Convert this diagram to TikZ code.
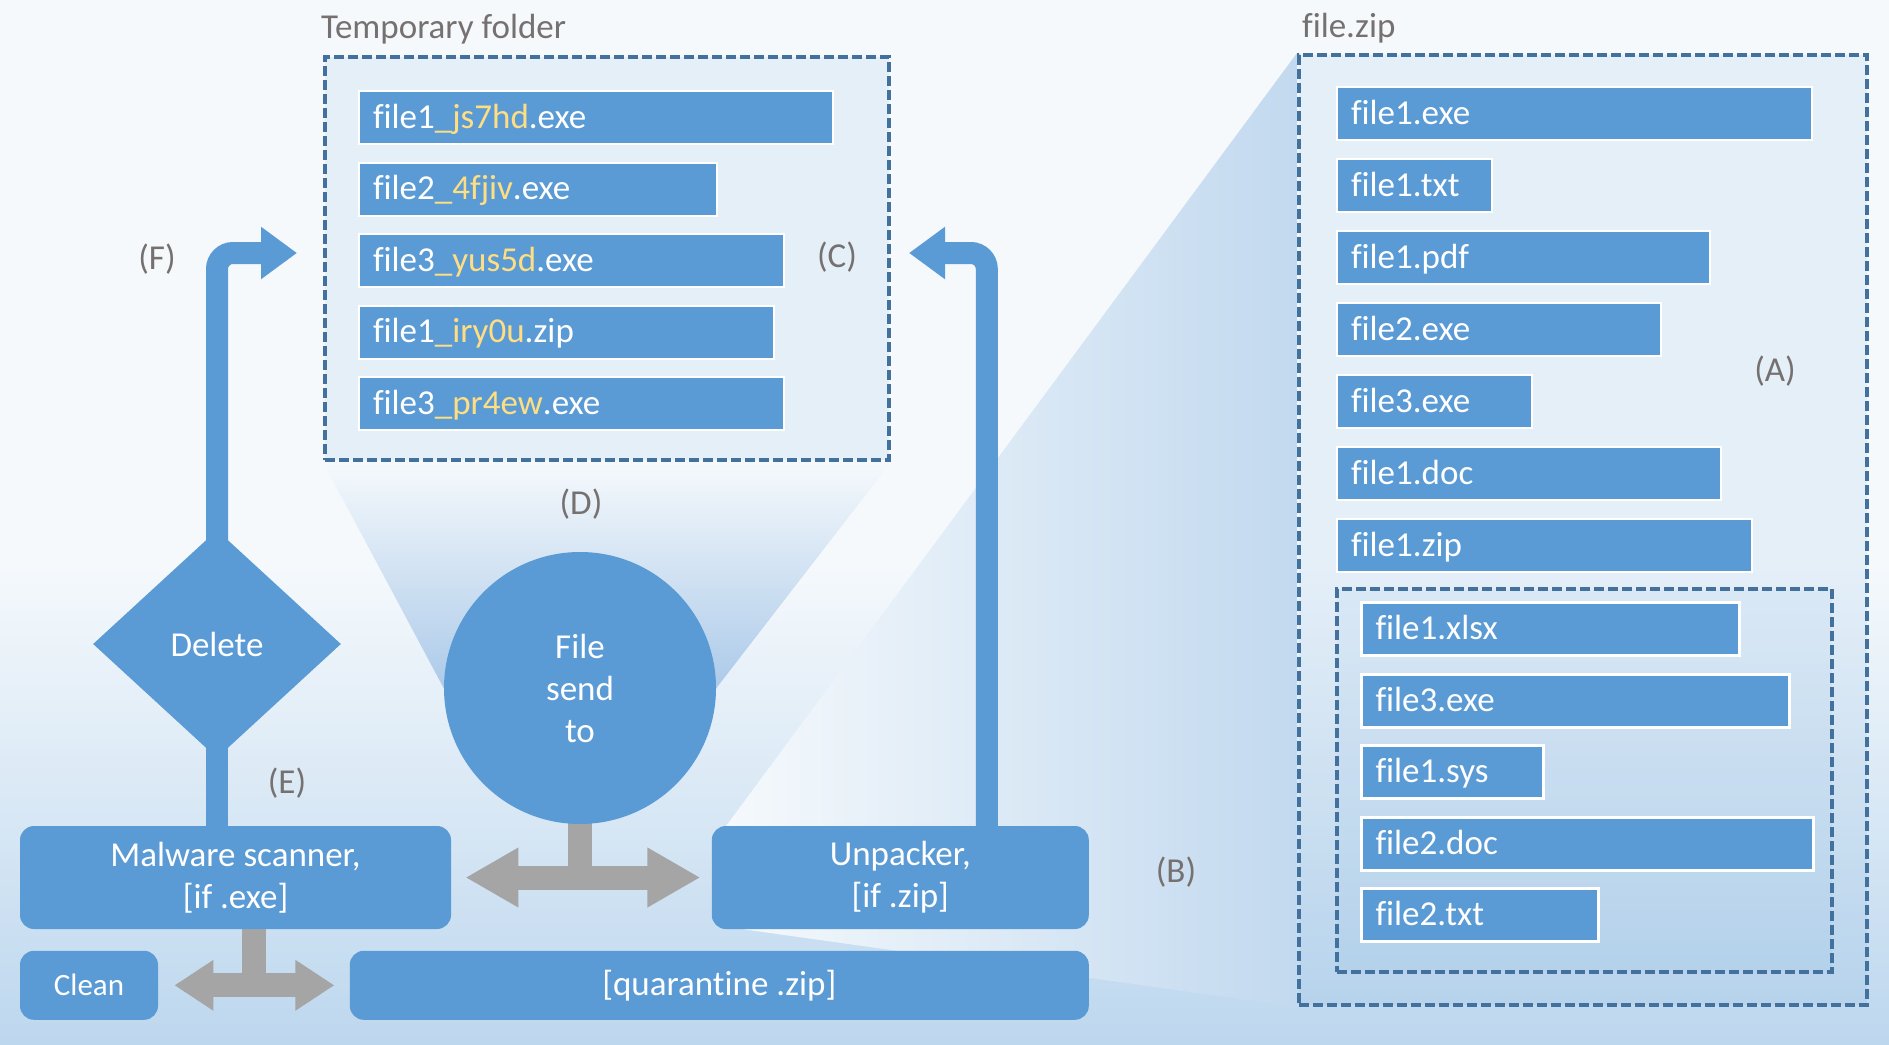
\documentclass[tikz,border=0pt]{standalone}
\usepackage{fontspec}
\setmainfont{Carlito}[Ligatures=CommonOff]
\definecolor{barblue}{RGB}{91, 155, 213}
\definecolor{dashblue}{RGB}{65, 113, 156}
\definecolor{lblgray}{RGB}{118, 113, 113}
\definecolor{sufyellow}{RGB}{255, 222, 130}
\definecolor{arrowgray}{RGB}{165, 165, 165}
\definecolor{bgtop}{RGB}{245, 249, 252}
\definecolor{bgbot}{RGB}{189, 215, 238}
\definecolor{beamblue}{RGB}{172, 202, 233}
\definecolor{zipbeam}{RGB}{194, 217, 239}
\usepackage{tikz}
\usetikzlibrary{shapes.geometric, arrows.meta, positioning, calc, backgrounds}
\newcommand{\mainsize}{\fontsize{17.5pt}{21pt}\selectfont}
\newcommand{\suf}[1]{\textcolor{sufyellow}{\_#1}}
\pgfdeclareverticalshading{pagebg}{100bp}{color(0bp)=(bgbot); color(25bp)=(bgbot); color(48bp)=(bgtop); color(100bp)=(bgtop)}
\tikzset{
    dashbox/.style={draw=dashblue, line width=2pt, dash pattern=on 5pt off 2pt, fill=barblue, fill opacity=0.1, inner sep=0pt},
    filebar/.style={draw=white, line width=1pt, fill=barblue, text=white, font=\mainsize, align=left, minimum height=26.5pt, inner xsep=7pt, inner ysep=0pt, text height=14pt, text depth=3.5pt},
    flowbox/.style={fill=barblue, rounded corners=7pt, text=white, font=\mainsize, align=center, inner sep=0pt},
    decision/.style={diamond, fill=barblue, text=white, font=\mainsize, inner sep=0pt},
    sendcircle/.style={circle, fill=barblue, text=white, font=\mainsize, align=center, inner sep=0pt},
    bluearrow/.style={draw=barblue, line width=11pt, rounded corners=8pt, -{Triangle[length=18pt, width=25pt]}},
    bluestem/.style={draw=barblue, line width=11pt},
    grayarrow/.style={draw=arrowgray, line width=12pt, {Triangle[length=26.5pt, width=28pt]}-{Triangle[length=26.5pt, width=28pt]}},
    smallgrayarrow/.style={draw=arrowgray, line width=12pt, {Triangle[length=19.5pt, width=24pt]}-{Triangle[length=19.5pt, width=24pt]}},
    graystem/.style={draw=arrowgray, line width=12pt},
    lbl/.style={text=lblgray, font=\mainsize},
}

\begin{document}
\begin{tikzpicture}[x=0.5pt, y=-0.5pt]
    \useasboundingbox (0,0) rectangle (1889,1044);

    % temporary folder
    \node[dashbox, minimum width=282pt, minimum height=201.5pt, anchor=north west] (tmpbox) at (323,55) {};
    \node[lbl, anchor=base west] (tmplbl) at (314,39) {Temporary folder};
    \node[filebar, text width=223pt, anchor=north west] (t1) at (358,90) {file1\suf{js7hd}.exe};
    \node[filebar, text width=165pt, below=8.3pt of t1.south west, anchor=north west] (t2) {file2\suf{4fjiv}.exe};
    \node[filebar, text width=198.5pt, below=8.3pt of t2.south west, anchor=north west] (t3) {file3\suf{yus5d}.exe};
    \node[filebar, text width=193.5pt, below=8.3pt of t3.south west, anchor=north west] (t4) {file1\suf{iry0u}.zip};
    \node[filebar, text width=198.5pt, below=8.3pt of t4.south west, anchor=north west] (t5) {file3\suf{pr4ew}.exe};

    % file.zip
    \node[dashbox, minimum width=284pt, minimum height=475pt, anchor=north west] (zipbox) at (1297,53) {};
    \node[lbl, anchor=base west] (ziplbl) at (1295,37) {file.zip};
    \node[filebar, text width=223.5pt, anchor=north west] (z1) at (1336,86) {file1.exe};
    \node[filebar, text width=63.5pt, below=8.5pt of z1.south west, anchor=north west] (z2) {file1.txt};
    \node[filebar, text width=172.5pt, below=8.5pt of z2.south west, anchor=north west] (z3) {file1.pdf};
    \node[filebar, text width=148pt, below=8.5pt of z3.south west, anchor=north west] (z4) {file2.exe};
    \node[filebar, text width=83.5pt, below=8.5pt of z4.south west, anchor=north west] (z5) {file3.exe};
    \node[filebar, text width=178pt, below=8.5pt of z5.south west, anchor=north west] (z6) {file1.doc};
    \node[filebar, text width=193.5pt, below=8.5pt of z6.south west, anchor=north west] (z7) {file1.zip};

    \node[dashbox, fill opacity=0.06, minimum width=247.5pt, minimum height=191.5pt, anchor=north west] (subbox) at (1335,587) {};
    \node[filebar, line width=1.5pt, text width=175pt, anchor=north west] (s1) at (1360,601) {file1.xlsx};
    \node[filebar, line width=1.5pt, text width=200pt, below=7.8pt of s1.south west, anchor=north west] (s2) {file3.exe};
    \node[filebar, line width=1.5pt, text width=77pt, below=7.8pt of s2.south west, anchor=north west] (s3) {file1.sys};
    \node[filebar, line width=1.5pt, text width=212pt, below=7.8pt of s3.south west, anchor=north west] (s4) {file2.doc};
    \node[filebar, line width=1.5pt, text width=104.5pt, below=7.8pt of s4.south west, anchor=north west] (s5) {file2.txt};

    % flow
    \node[decision, minimum width=124pt, minimum height=114pt] (del) at (217,644) {Delete};
    \node[sendcircle, minimum size=136pt] (send) at (580,688) {File\\send\\to};
    \node[flowbox, minimum width=215.5pt, minimum height=51.5pt] (mal) at (235.5,877.5) {Malware scanner,\\{[if .exe]}};
    \node[flowbox, minimum width=188.5pt, minimum height=51.5pt, right=130pt of mal] (unp) {Unpacker,\\{[if .zip]}};
    \node[flowbox, minimum width=69pt, minimum height=34.5pt, font=\fontsize{15.5pt}{19pt}\selectfont,
          below=10.5pt of mal.south west, anchor=north west] (clean) {Clean};
    \node[flowbox, minimum width=369.5pt, minimum height=34.5pt, right=95.5pt of clean] (quar) {[quarantine .zip]};

    \coordinate (fend) at (297,253);
    \coordinate (cend) at (909,253);

    % labels
    \node[lbl] (la) at (1775,371) {(A)};
    \node[lbl] (lb) at (1176,872) {(B)};
    \node[lbl] (lc) at (837,257) {(C)};
    \node[lbl] (ld) at (581,504) {(D)};
    \node[lbl] (le) at (287,783) {(E)};
    \node[lbl] (lf) at (157,259) {(F)};

    \begin{scope}[on background layer]
        \shade[shading=pagebg] (0,0) rectangle (1889,1044);
        \shade[top color=bgtop, bottom color=beamblue]
            (tmpbox.south west) -- (tmpbox.south east) -- (send.east) -- (send.west) -- cycle;
        \shade[left color=bgtop, right color=zipbeam]
            (zipbox.north west) -- (zipbox.south west) -- ([xshift=16.5pt]unp.south west) -- ([xshift=7.5pt]unp.north west) -- cycle;

        \draw[bluestem] (del.center) -- (del.center |- mal.north);
        \draw[bluearrow] (del.center) |- (fend);
        \draw[bluearrow] ([xshift=43.25pt]unp.center) |- (cend);

        \draw[graystem] (send.center) -- (send.center |- mal.east);
        \draw[grayarrow, shorten <=7pt, shorten >=5.5pt] (mal.east) -- (unp.west);
        \coordinate (qmid) at ($(clean.east)!0.5!(quar.west)$);
        \draw[graystem] (qmid) -- (qmid |- mal.south);
        \draw[smallgrayarrow, shorten <=8pt, shorten >=7.5pt] (clean.east) -- (quar.west);
    \end{scope}
\end{tikzpicture}
\end{document}
